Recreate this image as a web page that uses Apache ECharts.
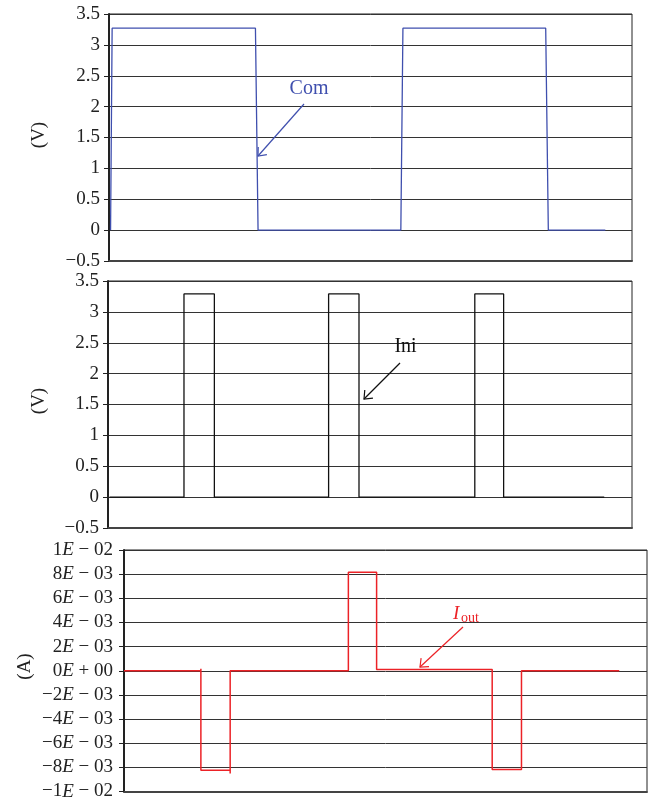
<!DOCTYPE html>
<html>
<head>
<meta charset="utf-8">
<script src="https://cdn.jsdelivr.net/npm/echarts@6/dist/echarts.min.js"></script>
<style>html,body{margin:0;padding:0;background:#fff;}#c{width:653px;height:801px;}</style>
</head>
<body>
<div id="c"></div>
<script>
// ---- data (time in arbitrary units, 0..100 across plot width) ----
const comTime  = [0.3, 0.6, 28.0, 28.5, 55.8, 56.2, 83.5, 84.0, 94.9];
const comVolts = [0, 3.27, 3.27, 0, 0, 3.27, 3.27, 0, 0];

const iniTime  = [0.3, 14.5, 14.5, 20.3, 20.3, 42.1, 42.1, 47.9, 47.9, 70.0, 70.0, 75.5, 75.5, 94.7];
const iniVolts = [0, 0, 3.29, 3.29, 0, 0, 3.29, 3.29, 0, 0, 3.29, 3.29, 0, 0];

const ioutTime = [0, 14.7, 14.7, 14.7, 20.3, 20.3, 20.3, 42.9, 42.9, 48.3, 48.3, 70.4, 70.4, 76.0, 76.0, 94.7];
const ioutAmps = [0, 0, 0.00017, -0.00825, -0.00825, -0.0085, 0, 0, 0.00816, 0.00816, 0.0001, 0.0001, -0.00817, -0.00817, 0, 0];

const voltTickLabels = ['\u22120.5', '0', '0.5', '1', '1.5', '2', '2.5', '3', '3.5'];
const ampTickLabels = ['\u22121E \u2212 02', '\u22128E \u2212 03', '\u22126E \u2212 03', '\u22124E \u2212 03', '\u22122E \u2212 03',
  '0E + 00', '2E \u2212 03', '4E \u2212 03', '6E \u2212 03', '8E \u2212 03', '1E \u2212 02'];

const seriesNames = ['Com', 'Ini', 'I_out'];
const axisTitles = ['(V)', '(V)', '(A)'];

// ---- styling ----
const FONT = '"Liberation Serif", "Times New Roman", serif';
const BLUE = '#3f4fae', BLACK = '#111', RED = '#ec2227';
const pairs = (xs, ys) => xs.map((x, i) => [x, ys[i]]);

const grids = [
  {left: 109, top: 14, width: 523, height: 247},
  {left: 108, top: 281, width: 524, height: 247},
  {left: 124, top: 550, width: 523, height: 242}
].map(g => Object.assign(g, {show: true, borderColor: '#222', borderWidth: 1, backgroundColor: 'transparent'}));

const xAxes = [0, 1, 2].map(i => ({
  type: 'value', gridIndex: i, min: 0, max: 100,
  axisLabel: {show: false}, axisTick: {show: false}, splitLine: {show: false},
  axisLine: {show: true, onZero: false, lineStyle: {color: '#444', width: 2}}
}));

const voltAxis = (i) => ({
  type: 'value', gridIndex: i, min: -0.5, max: 3.5, interval: 0.5,
  axisLine: {show: true, lineStyle: {color: '#222', width: 2}},
  axisTick: {show: true, length: 5, lineStyle: {color: '#222'}},
  splitLine: {show: true, lineStyle: {color: '#333', width: 1}},
  axisLabel: {
    margin: 9, color: '#222', fontFamily: FONT, fontSize: 19,
    formatter: v => voltTickLabels[Math.round((v + 0.5) / 0.5)] || ''
  }
});

const ampAxis = {
  type: 'value', gridIndex: 2, min: -0.01, max: 0.01, interval: 0.002,
  axisLine: {show: true, lineStyle: {color: '#222', width: 2}},
  axisTick: {show: true, length: 5, lineStyle: {color: '#222'}},
  splitLine: {show: true, lineStyle: {color: '#333', width: 1}},
  axisLabel: {
    margin: 11, color: '#222', fontFamily: FONT, fontSize: 19,
    formatter: v => {
      const s = ampTickLabels[Math.round((v + 0.01) / 0.002)] || '';
      const k = s.indexOf('E');
      return '{n|' + s.slice(0, k) + '}{e|E}{n|' + s.slice(k + 1) + '}';
    },
    rich: {
      n: {fontFamily: FONT, fontSize: 19, color: '#222'},
      e: {fontFamily: FONT, fontSize: 19, fontStyle: 'italic', color: '#222'}
    }
  }
};

// annotation arrows (open chevron heads)
function arrow(x1, y1, x2, y2, color) {
  const dx = x1 - x2, dy = y1 - y2, L = Math.hypot(dx, dy);
  const ux = dx / L, uy = dy / L, a = 40 * Math.PI / 180, h = 9;
  const rot = (s) => [x2 + h * (ux * Math.cos(s) - uy * Math.sin(s)), y2 + h * (ux * Math.sin(s) + uy * Math.cos(s))];
  return [
    {type: 'line', shape: {x1, y1, x2, y2}, style: {stroke: color, lineWidth: 1.2}, z: 100},
    {type: 'polyline', shape: {points: [rot(a), [x2, y2], rot(-a)]}, style: {stroke: color, lineWidth: 1.2, fill: null}, z: 100}
  ];
}

const graphics = [
  {type: 'text', x: 309, y: 89, style: {text: seriesNames[0], fill: BLUE, font: '20px ' + FONT, textAlign: 'center', textVerticalAlign: 'middle'}, z: 100},
  ...arrow(304, 104, 258, 156, BLUE),
  {type: 'text', x: 405.5, y: 347, style: {text: seriesNames[1], fill: BLACK, font: '20px ' + FONT, textAlign: 'center', textVerticalAlign: 'middle'}, z: 100},
  ...arrow(400, 363, 364, 399, BLACK),
  {type: 'text', x: 453, y: 614, style: {text: 'I', fill: RED, font: 'italic 19px ' + FONT, textAlign: 'left', textVerticalAlign: 'middle'}, z: 100},
  {type: 'text', x: 461, y: 618, style: {text: 'out', fill: RED, font: '14px ' + FONT, textAlign: 'left', textVerticalAlign: 'middle'}, z: 100},
  ...arrow(463, 627, 420, 667, RED),
  {type: 'text', x: 39, y: 135, rotation: Math.PI / 2, style: {text: axisTitles[0], fill: '#222', font: '19px ' + FONT, textAlign: 'center', textVerticalAlign: 'middle'}},
  {type: 'text', x: 39.5, y: 401, rotation: Math.PI / 2, style: {text: axisTitles[1], fill: '#222', font: '19px ' + FONT, textAlign: 'center', textVerticalAlign: 'middle'}},
  {type: 'text', x: 25, y: 666.5, rotation: Math.PI / 2, style: {text: axisTitles[2], fill: '#222', font: '19px ' + FONT, textAlign: 'center', textVerticalAlign: 'middle'}}
];

const chart = echarts.init(document.getElementById('c'), null, {renderer: 'canvas'});
chart.setOption({
  animation: false,
  backgroundColor: '#fff',
  grid: grids,
  xAxis: xAxes,
  yAxis: [voltAxis(0), voltAxis(1), ampAxis],
  series: [
    {name: seriesNames[0], type: 'line', xAxisIndex: 0, yAxisIndex: 0, data: pairs(comTime, comVolts), symbol: 'none', lineStyle: {color: BLUE, width: 1.3}, z: 10},
    {name: seriesNames[1], type: 'line', xAxisIndex: 1, yAxisIndex: 1, data: pairs(iniTime, iniVolts), symbol: 'none', lineStyle: {color: BLACK, width: 1.3}, z: 10},
    {name: seriesNames[2], type: 'line', xAxisIndex: 2, yAxisIndex: 2, data: pairs(ioutTime, ioutAmps), symbol: 'none', lineStyle: {color: RED, width: 1.5}, z: 10}
  ],
  graphic: graphics
});
</script>
</body>
</html>
